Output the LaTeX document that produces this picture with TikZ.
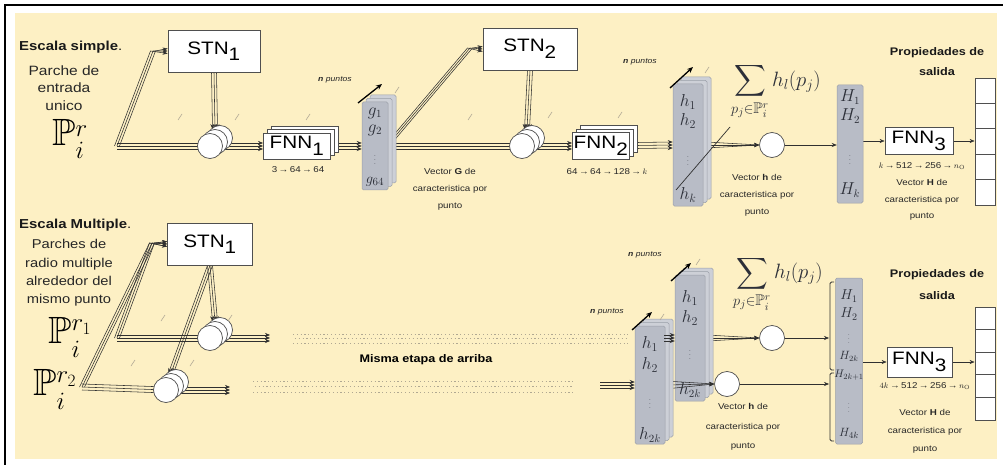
\documentclass[tikz,border=0pt]{standalone}
\usepackage{fontspec}
\usepackage{amssymb}
\setsansfont[FakeStretch=1.15]{Liberation Sans}
\usetikzlibrary{arrows.meta}
\definecolor{bgy}{HTML}{FDF0C4}
\definecolor{stkf}{HTML}{B8BCC6}
\definecolor{stkl}{HTML}{CDD0D7}
\definecolor{stke}{HTML}{9A9FA8}
\definecolor{lnc}{HTML}{303030}
\definecolor{tickc}{HTML}{B3AA96}
\definecolor{mtx}{HTML}{2C2F38}
\definecolor{dotc}{HTML}{B0A892}
\newcommand{\fsz}[2]{\fontsize{#1}{#2}\selectfont}
\newcommand{\mkstack}[5]{%
  \node[stkbk,minimum width=#4pt,minimum height=#5pt] (#1bb) at ({#2+8},{#3-7}) {};
  \node[stkbk,minimum width=#4pt,minimum height=#5pt] (#1b) at ({#2+4},{#3-3.5}) {};
  \node[stk,minimum width=#4pt,minimum height=#5pt] (#1) at (#2,#3) {};}
\newcommand{\mkboxes}[6]{%
  \node[box,minimum width=#4pt,minimum height=#5pt] (#1bb) at ({#2+8},{#3-7}) {};
  \node[box,minimum width=#4pt,minimum height=#5pt] (#1b) at ({#2+4},{#3-3.5}) {};
  \node[box,minimum width=#4pt,minimum height=#5pt] (#1) at (#2,#3) {#6};}
\newcommand{\mkcircs}[3]{%
  \node[cir] (#1bb) at ({#2+10},{#3-8}) {};
  \node[cir] (#1b) at ({#2+5},{#3-4}) {};
  \node[cir] (#1) at (#2,#3) {};}
\newcommand{\trip}[2]{\foreach \ofs in {-3,0,3}{\draw[conn] ([yshift=\ofs pt]#1) -- ([yshift=\ofs pt]#2);}}
\newcommand{\tickm}[2]{\draw[tickc,line width=0.6pt] ({#1-2},{#2+3}) -- ({#1+2},{#2-3});}
\pgfdeclarelayer{back}
\pgfdeclarelayer{lines}
\pgfsetlayers{back,lines,main}
\begin{document}
\begin{tikzpicture}[x=1pt,y=-1pt,
  box/.style={draw=lnc!85,fill=white,line width=0.8pt,inner sep=0pt,font=\sffamily\fsz{18}{18}},
  cir/.style={circle,draw=lnc!85,fill=white,line width=0.7pt,minimum size=25pt,inner sep=0pt},
  stk/.style={draw=stke,fill=stkf,line width=0.5pt,rounded corners=1.5pt,inner sep=0pt},
  stkbk/.style={draw=stke,fill=stkl,line width=0.5pt,rounded corners=1.5pt,inner sep=0pt},
  cell/.style={draw=lnc!85,fill=white,line width=0.8pt,minimum width=20pt,inner sep=0pt},
  conn/.style={draw=lnc,line width=0.55pt,-{Stealth[length=5pt,width=4pt]}},
  plainln/.style={draw=lnc,line width=0.7pt},
  bigarr/.style={draw=black,line width=1.3pt,-{Stealth[length=6pt,width=5pt]}},
  dotband/.style={draw=dotc,line width=0.9pt,dash pattern=on 1.2pt off 2.6pt},
  ttl/.style={font=\sffamily\fsz{13}{14},text=black!90,inner sep=0pt},
  desc/.style={font=\sffamily\fsz{13.5}{17.5},text=black!85,inner sep=0pt,align=center},
  small/.style={font=\sffamily\fsz{8.5}{17},text=black!85,inner sep=0pt,align=center},
  npt/.style={font=\sffamily\itshape\fsz{7.5}{8},text=black!85,inner sep=0pt},
  prop/.style={font=\sffamily\bfseries\fsz{11}{20},text=black!90,inner sep=0pt,align=center},
  stt/.style={text=mtx,inner sep=0pt,font=\fsz{16}{16}},
  vdt/.style={text=mtx,inner sep=0pt,font=\fsz{7}{7}},
  sumt/.style={text=mtx,inner sep=0pt,font=\fsz{22}{22}}
]
\useasboundingbox (0,0) rectangle (1003,465);
\begin{pgfonlayer}{back}
\fill[white] (0,0) rectangle (1003,465);
\fill[bgy] (15,13) rectangle (997,459);
\draw[black,line width=1.2pt] (5,465) -- (5,5) -- (1003,5);
\end{pgfonlayer}

% ---------------- top row ----------------
\node[ttl,anchor=west] (esc1) at (19,47) {\textbf{Escala simple}.};
\node[desc] (parche) at (64,88) {Parche de\\entrada\\unico};
\node[inner sep=0pt] (pr) at (70,139) {\fsz{38}{38}$\mathbb{P}_i^r$};

\node[box,minimum width=92pt,minimum height=42pt] (stn1) at (214,51) {STN$_{\textsf{1}}$};
\mkcircs{qa}{210}{146}
\mkboxes{fa}{297}{146}{67}{26}{FNN$_{\textsf{1}}$}
\node[small] (fal) at (298,170) {3\,→\,64\,→\,64};

\mkstack{gs}{375}{146}{26}{88}
\node[stt] (g1) at (375,113) {$g_1$};
\node[stt] (g2) at (375,130) {$g_2$};
\node[vdt] (g3) at (375,157) {$\vdots$};
\node[stt,font=\fsz{15}{15}] (g4) at (375,182) {$g_{64}$};
\node[npt] (np1) at (335,80) {\textbf{n} puntos};
\node[small] (vg) at (450,189) {Vector \textbf{G} de\\caracteristica por\\punto};

\node[box,minimum width=94pt,minimum height=42pt] (stn2) at (530,49) {STN$_{\textsf{2}}$};
\mkcircs{qb}{522}{146}
\mkboxes{fb}{601}{146}{57}{27}{FNN$_{\textsf{2}}$}
\node[small] (fbl) at (607,172) {64\,→\,64\,→\,128\,→\,$k$};

\mkstack{hs}{688}{145}{30}{122}
\node[stt,font=\fsz{17}{17}] (h1) at (688,102) {$h_1$};
\node[stt,font=\fsz{17}{17}] (h2) at (688,121) {$h_2$};
\node[vdt] (h3) at (688,158) {$\vdots$};
\node[stt,font=\fsz{17}{17}] (h4) at (688,195) {$h_k$};
\node[npt] (np2) at (640,62) {\textbf{n} puntos};

\node[cir] (cc) at (772,145) {};
\node[sumt] (sum1) at (776,92) {$\displaystyle\sum_{p_j\in\mathbb{P}_i^r} h_l(p_j)$};
\node[small] (vh) at (757,195) {Vector \textbf{h} de\\caracteristica por\\punto};

\node[stk,minimum width=26pt,minimum height=118pt] (Ht) at (850,144) {};
\node[stt] (H1) at (850,97) {$H_1$};
\node[stt] (H2) at (850,116) {$H_2$};
\node[vdt] (H3) at (850,157) {$\vdots$};
\node[stt] (H4) at (850,190) {$H_k$};

\node[box,minimum width=68pt,minimum height=27pt] (fc) at (919,141) {FNN$_{\textsf{3}}$};
\node[small] (fcl) at (922,166) {$k$\,→\,512\,→\,256\,→\,$n_{\mathrm{O}}$};
\node[small,font=\sffamily\fsz{8.5}{16.5}] (vH) at (922,200) {Vector \textbf{H} de\\caracteristica por\\punto};
\node[prop] (prop1) at (937,62) {Propiedades de\\salida};
\foreach \i in {1,...,5} \node[cell,minimum height=25.4pt] (ot\i) at (985,{65.3+\i*25.4}) {};

% ---------------- bottom row ----------------
\node[ttl,anchor=west] (esc2) at (19,225) {\textbf{Escala Multiple}.};
\node[desc,font=\sffamily\fsz{12.8}{18.3}] (parches) at (69,273) {Parches de\\radio multiple\\alrededor del\\mismo punto};
\node[inner sep=0pt] (pr1) at (70,337) {\fsz{38}{38}$\mathbb{P}_i^{r_1}$};
\node[inner sep=0pt] (pr2) at (55,389) {\fsz{38}{38}$\mathbb{P}_i^{r_2}$};

\node[box,minimum width=85pt,minimum height=42pt] (stn1b) at (210,244) {STN$_{\textsf{1}}$};
\mkcircs{ua}{210}{338}
\mkcircs{ub}{166}{390}
\node[font=\sffamily\bfseries\fsz{11}{11},inner sep=0pt] (misma) at (426,360) {Misma etapa de arriba};

\node[cir] (cB) at (772,338) {};
\node[cir] (cA) at (727,384) {};
\mkstack{sB}{690}{338}{30}{126}
\node[stt,font=\fsz{17}{17}] (b1) at (690,298) {$h_1$};
\node[stt,font=\fsz{17}{17}] (b2) at (690,318) {$h_2$};
\node[vdt] (b3) at (690,352) {$\vdots$};
\node[stt] (b4) at (690,390) {$h_{2k}$};
\foreach \ofs in {-4,0,4} \draw[conn] ([yshift=\ofs pt]665,385) -- (cA.west);
\mkstack{sA}{650}{385}{30}{118}
\node[stt,font=\fsz{17}{17}] (a1) at (650,344) {$h_1$};
\node[stt,font=\fsz{17}{17}] (a2) at (650,365) {$h_2$};
\node[vdt] (a3) at (650,401) {$\vdots$};
\node[stt] (a4) at (650,435) {$h_{2k}$};
\node[npt] (np3) at (607,312) {\textbf{n} puntos};
\node[npt] (np4) at (645,255) {\textbf{n} puntos};
\node[sumt] (sum2) at (778,284) {$\displaystyle\sum_{p_j\in\mathbb{P}_i^r} h_l(p_j)$};
\node[small,font=\sffamily\fsz{8.5}{19.5}] (vh2) at (743,427) {Vector \textbf{h} de\\caracteristica por\\punto};

\node[stk,minimum width=27pt,minimum height=166pt] (Hb) at (849,361) {};
\node[stt,font=\fsz{14}{14}] (J1) at (849,296) {$H_1$};
\node[stt,font=\fsz{14}{14}] (J2) at (849,314) {$H_2$};
\node[vdt,font=\fsz{6}{6}] (J3) at (849,336) {$\vdots$};
\node[stt,font=\fsz{12}{12}] (J4) at (849,356) {$H_{2k}$};
\node[stt,font=\fsz{11}{11}] (J5) at (849,375) {$H_{2k+1}$};
\node[vdt,font=\fsz{6}{6}] (J6) at (849,405) {$\vdots$};
\node[stt,font=\fsz{13}{13}] (J7) at (849,433) {$H_{4k}$};
\draw[lnc,line width=0.9pt,rounded corners=1.5pt] (834,282) -- (830,282) -- (830,370) -- (834,370);
\draw[lnc,line width=0.9pt,rounded corners=1.5pt] (834,373) -- (830,373) -- (830,441) -- (834,441);
\coordinate (brA) at (829,338);
\coordinate (brB) at (829,384);

\node[box,minimum width=65pt,minimum height=30pt] (fd) at (919.5,362) {FNN$_{\textsf{3}}$};
\node[small] (fdl) at (925,386) {$4k$\,→\,512\,→\,256\,→\,$n_{\mathrm{O}}$};
\node[small,font=\sffamily\fsz{8.5}{18}] (vH2) at (925,431) {Vector \textbf{H} de\\caracteristica por\\punto};
\node[prop,font=\sffamily\bfseries\fsz{11}{22}] (prop2) at (937,285) {Propiedades de\\salida};
\foreach \i in {1,...,5} \node[cell,minimum height=22.6pt] (ob\i) at (985,{295.7+\i*22.6}) {};

% ---------------- connectors (behind nodes) ----------------
\begin{pgfonlayer}{lines}
\coordinate (pA) at (117,146);
\coordinate (kA) at (153,51);
\foreach \ofs in {-2.5,0,2.5} \draw[conn] ([xshift=\ofs pt]pA) -- ([xshift=\ofs pt]kA) -- ([yshift=\ofs pt]stn1.west);
\trip{pA}{qa.center}
\foreach \ofs in {-2.5,0,2.5} \draw[conn] ([xshift=\ofs pt]stn1.south) -- ([xshift=\ofs pt]qab.north);
\trip{qa.center}{fa.west}
\trip{fa.center}{gs.west}
\coordinate (gB) at (392,140);
\coordinate (kB) at (470,48);
\foreach \ofs in {-2.5,0,2.5} \draw[conn] ([xshift=\ofs pt]gB) -- ([xshift=\ofs pt]kB) -- ([yshift=\ofs pt]stn2.west);
\trip{gs.center}{qb.center}
\foreach \ofs in {-2.5,0,2.5} \draw[conn] ([xshift=\ofs pt]stn2.south) -- ([xshift=\ofs pt]qbb.north);
\trip{qb.center}{fb.west}
\trip{fb.center}{hs.west}
\foreach \ofs in {-4,0,4} \draw[conn] ([yshift=\ofs pt]hs.center) -- (cc.west);
\draw[conn] (cc.east) -- (cc.east -| Ht.west);
\draw[conn] (Ht.east |- fc.west) -- (fc.west);
\draw[conn] (fc.east) -- (fc.east -| ot3.west);

\coordinate (p1A) at (117,338);
\coordinate (p2A) at (82,387);
\coordinate (kC) at (152,243);
\foreach \ofs in {-2.5,0,2.5} {
  \draw[conn] ([xshift=\ofs pt]p1A) -- ([xshift=\ofs pt]kC) -- ([yshift=\ofs pt]stn1b.west);
  \draw[conn] ([xshift=\ofs pt]p2A) -- ([xshift=\ofs pt]kC) -- ([yshift=\ofs pt]stn1b.west);}
\trip{p1A}{ua.center}
\trip{p2A}{ub.center}
\foreach \ofs in {-2.5,0,2.5} {
  \draw[conn] ([xshift=\ofs pt]stn1b.south) -- ([xshift=\ofs pt]uab.north);
  \draw[conn] ([xshift=\ofs pt]stn1b.south) -- ([xshift=\ofs pt]ubb.north);}
\coordinate (oba) at (270,338);
\coordinate (obb) at (230,390);
\trip{ua.center}{oba}
\trip{ub.center}{obb}
\foreach \yy/\ph in {334/0,338.5/1.9,343/0} \draw[dotband,dash phase=\ph pt] (293,\yy) -- (628,\yy);
\foreach \yy/\ph in {381/0,386.5/1.9,392/0} \draw[dotband,dash phase=\ph pt] (253,\yy) -- (573,\yy);
\coordinate (sAin) at (600,385);
\trip{sAin}{sA.west}
\foreach \ofs in {-4,0,4} \draw[conn] ([yshift=\ofs pt]sB.center) -- (cB.west);
\draw[conn] (cB.east) -- (brA);
\draw[conn] (cA.east) -- (brB);
\draw[conn] (Hb.east |- fd.west) -- (fd.west);
\draw[conn] (fd.east) -- (fd.east -| ob3.west);
\end{pgfonlayer}

% on top
\coordinate (sBin) at (664,338);
\trip{sBin}{sB.west}
\draw[plainln] (676,190) -- (730,127);
\coordinate (a1s) at (358,103); \coordinate (a1e) at (382,84);
\draw[bigarr] (a1s) -- (a1e);
\coordinate (a2s) at (670,88); \coordinate (a2e) at (693,67);
\draw[bigarr] (a2s) -- (a2e);
\coordinate (a3s) at (632,330); \coordinate (a3e) at (652,312);
\draw[bigarr] (a3s) -- (a3e);
\coordinate (a4s) at (671,281); \coordinate (a4e) at (691,263);
\draw[bigarr] (a4s) -- (a4e);
\tickm{180}{117}\tickm{237}{117}\tickm{308}{117}\tickm{397}{90}\tickm{470}{117}
\tickm{550}{115}\tickm{620}{115}\tickm{707}{70}
\tickm{163}{318}\tickm{230}{318}\tickm{133}{363}\tickm{192}{363}\tickm{662}{317}\tickm{698}{262}
\end{tikzpicture}
\end{document}
